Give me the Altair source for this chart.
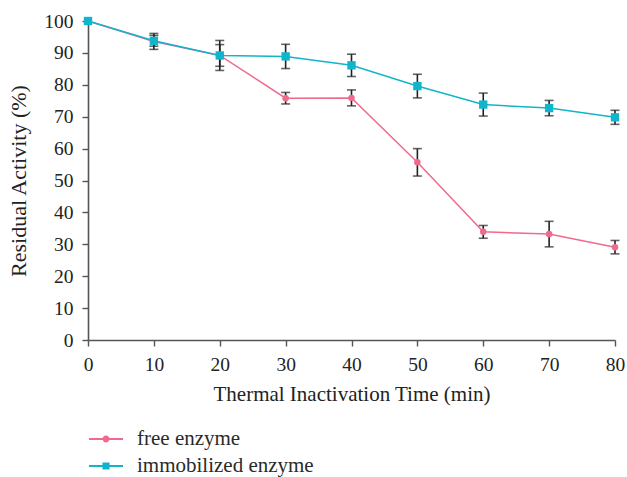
import altair as alt
import pandas as pd

time = [0, 10, 20, 30, 40, 50, 60, 70, 80]
free = [100, 93.6, 89.2, 75.8, 75.9, 55.7, 33.9, 33.2, 29.1]
free_err = [0, 2.5, 4.7, 1.8, 2.5, 4.3, 2.0, 4.0, 2.1]
immob = [100, 93.8, 89.2, 88.9, 86.1, 79.6, 73.8, 72.7, 69.8]
immob_err = [0, 1.7, 3.4, 3.8, 3.5, 3.7, 3.6, 2.4, 2.2]
series = ["free enzyme", "immobilized enzyme"]
colors = ["#EF6A8C", "#10B5CB"]
y_ticks = [0, 10, 20, 30, 40, 50, 60, 70, 80, 90, 100]

rows = []
for name, vals, errs in [(series[0], free, free_err), (series[1], immob, immob_err)]:
    for t, v, e in zip(time, vals, errs):
        rows.append({"time": t, "value": v, "lo": v - e, "hi": v + e, "series": name})
df = pd.DataFrame(rows)

FONT = "Liberation Serif"
xs = alt.Scale(domain=[0, 80], nice=False)
ys = alt.Scale(domain=[0, 100], nice=False)
cs = alt.Scale(domain=series, range=colors)

x_axis = alt.Axis(values=time, grid=False, labelFlush=False)
y_axis = alt.Axis(values=y_ticks, grid=False, labelOverlap=False)
x_enc = alt.X("time:Q", scale=xs, title="Thermal Inactivation Time (min)", axis=x_axis)
y_enc = alt.Y("value:Q", scale=ys, title="Residual Activity (%)", axis=y_axis)

base = alt.Chart(df)

err = base.transform_filter("datum.hi > datum.lo").mark_errorbar(
    ticks=alt.MarkConfig(size=9), color="#222222", thickness=1.6
).encode(x=x_enc,
         y=alt.Y("lo:Q", scale=ys, title="Residual Activity (%)", axis=y_axis),
         y2="hi:Q")

line_bar = "M-1,-0.06H1V0.06H-1Z"
circ = "M0.2,0A0.2,0.2,0,1,1,-0.2,0A0.2,0.2,0,1,1,0.2,0Z"
sq = "M-0.21,-0.21H0.21V0.21H-0.21Z"
shapes = [line_bar + circ, line_bar + sq]

legend = alt.Legend(orient="none", legendX=1, legendY=401,
                    symbolOpacity=1, symbolSize=1156,
                    symbolStrokeWidth=0, labelFont=FONT,
                    labelFontSize=21, labelColor="#2a2a2a",
                    rowPadding=0, labelOffset=14, labelLimit=500)

color_enc = alt.Color("series:N", scale=cs, title=None, legend=legend)

lines = base.mark_line(strokeWidth=1.5).encode(
    x=x_enc, y=y_enc, color=color_enc, order=alt.Order("time:Q"),
)

pts_free = base.transform_filter(alt.datum.series == series[0]).mark_point(
    shape="circle", filled=True, size=42, opacity=1
).encode(x=x_enc, y=y_enc, color=color_enc)

pts_imm = base.transform_filter(alt.datum.series == series[1]).mark_point(
    shape="square", filled=True, size=70, opacity=1
).encode(x=x_enc, y=y_enc, color=color_enc)

legend_layer = base.mark_point(filled=True, opacity=0).encode(
    x=x_enc, y=y_enc, color=color_enc,
    shape=alt.Shape("series:N", scale=alt.Scale(domain=series, range=shapes),
                    title=None, legend=legend),
)

chart = alt.layer(lines, err, pts_free, pts_imm, legend_layer).properties(
    width=527, height=319,
    padding={"left": 88, "top": 21, "right": 11, "bottom": 137},
    autosize=alt.AutoSizeParams(type="none"),
).configure_view(stroke=None).configure_axis(
    domainColor="#555555", domainWidth=1.6, tickColor="#555555", tickWidth=1.4,
    tickSize=6, labelFont=FONT, labelFontSize=19.5, labelColor="#222222",
    titleFont=FONT, titleFontWeight="normal", titleColor="#222222",
).configure_axisX(labelPadding=9, titlePadding=10, titleFontSize=21).configure_axisY(
    labelPadding=9, titlePadding=13, titleFontSize=22)

chart.save("out.html", embed_options={"renderer": "svg", "actions": False})
